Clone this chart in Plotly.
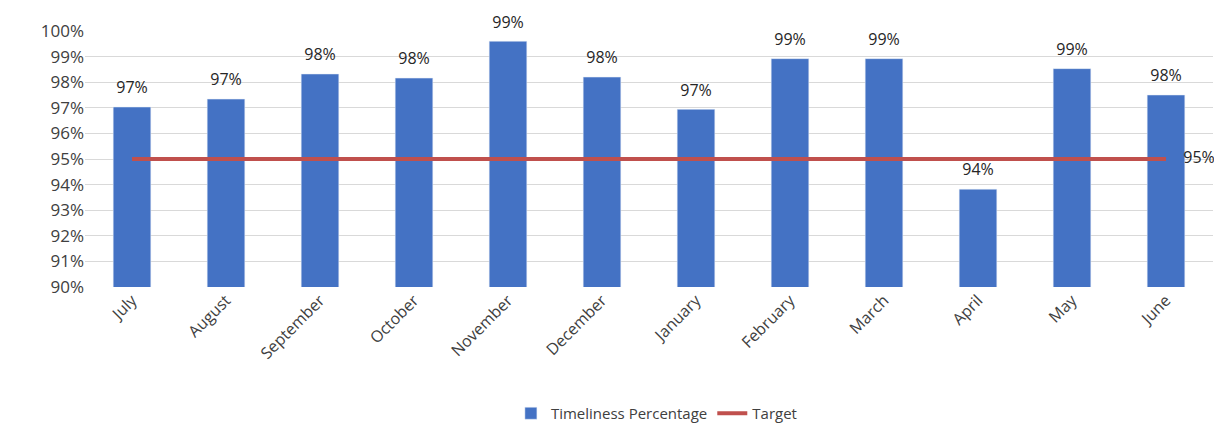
import plotly.graph_objects as go

months = ["July", "August", "September", "October", "November", "December",
          "January", "February", "March", "April", "May", "June"]
timeliness = [97.03, 97.34, 98.32, 98.16, 99.6, 98.2, 96.94, 98.92, 98.92, 93.82, 98.53, 97.5]
bar_labels = ["97%", "97%", "98%", "98%", "99%", "98%", "97%", "99%", "99%", "94%", "99%", "98%"]
target = [95] * 12
target_label = "95%"

FONT = "Open Sans"
TXT = "#404040"

fig = go.Figure()
fig.add_trace(go.Bar(
    x=months, y=timeliness, name="Timeliness Percentage",
    marker=dict(color="#4472C4"), width=0.4,
))
fig.add_trace(go.Scatter(
    x=months, y=target, name="Target", mode="lines",
    line=dict(color="#C0504D", width=4),
))
# data labels above bars
fig.add_trace(go.Scatter(
    x=months, y=timeliness, mode="markers+text", showlegend=False, hoverinfo="skip",
    marker=dict(size=14, opacity=0), text=bar_labels, textposition="top center",
    textfont=dict(family=FONT, size=16, color="#262626"), cliponaxis=False,
))
# target label at the end of the line
fig.add_trace(go.Scatter(
    x=months[-1:], y=target[-1:], mode="markers+text", showlegend=False, hoverinfo="skip",
    marker=dict(size=26, opacity=0), text=[target_label], textposition="middle right",
    textfont=dict(family=FONT, size=16, color="#262626"), cliponaxis=False,
))
fig.update_layout(
    width=1214, height=422,
    margin=dict(l=77, r=9, t=23, b=143, autoexpand=False),
    plot_bgcolor="white", paper_bgcolor="white",
    font=dict(family=FONT, size=16, color=TXT),
    bargap=0.6,
    showlegend=True,
    legend=dict(orientation="h", x=0.507, xanchor="center", yref="container",
                y=0.0, yanchor="bottom",
                font=dict(family=FONT, size=15, color=TXT)),
    xaxis=dict(tickangle=-45, showgrid=False, showline=False, ticks="", automargin=False,
               range=[-0.5, 11.5],
               tickfont=dict(family=FONT, size=16, color=TXT)),
    yaxis=dict(range=[90, 100], dtick=1, ticksuffix="%", showgrid=True, automargin=False,
               gridcolor="#D9D9D9", gridwidth=1, zeroline=False, showline=False,
               tickfont=dict(family=FONT, size=17, color=TXT)),
)
fig.write_html("out.html")
